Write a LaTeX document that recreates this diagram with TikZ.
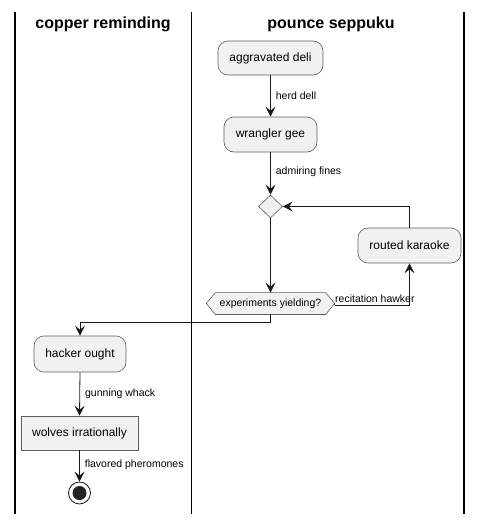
\documentclass[tikz,border=0pt]{standalone}
\usepackage{fontspec}
\setmainfont{Liberation Sans}
\usetikzlibrary{shapes.geometric,arrows.meta,backgrounds}
\definecolor{nodefill}{HTML}{F1F1F1}
\definecolor{nodeline}{HTML}{181818}
\tikzset{
  act/.style={draw=nodeline!70, fill=nodefill, rounded corners=10pt, line width=0.6pt,
    inner sep=0pt, font=\fontsize{12}{14}\selectfont},
  plainbox/.style={draw=nodeline!70, fill=nodefill, line width=0.6pt, inner sep=0pt,
    font=\fontsize{12}{14}\selectfont},
  arr/.style={draw=nodeline, line width=0.8pt, -{Stealth[length=10pt,width=10pt,inset=4pt]}},
  lnk/.style={draw=nodeline, line width=0.8pt},
  lbl/.style={font=\fontsize{10.5}{12}\selectfont, inner sep=0pt, anchor=west},
  lane/.style={draw=black, line width=1.3pt},
  hdr/.style={font=\bfseries\fontsize{16}{18}\selectfont, inner sep=0pt},
  hexfill/.style={draw=nodeline!70, fill=nodefill, line width=0.6pt},
}
\begin{document}
\begin{tikzpicture}[x=1pt,y=-1pt]
\useasboundingbox (0,0) rectangle (483,525);
% lanes
\draw[lane] (15,12) -- (15,514);
\draw[lane] (191.5,12) -- (191.5,514);
\draw[lane] (464,12) -- (464,514);
\node[hdr] (h1) at (103,24) {copper reminding};
\node[hdr] (h2) at (331,24) {pounce seppuku};
% nodes
\node[act, minimum width=105pt, minimum height=34pt] (ad) at (270.5,58) {aggravated deli};
\node[act, minimum width=93pt, minimum height=35pt] (wg) at (270.5,134.5) {wrangler gee};
\node[diamond, draw=nodeline!70, fill=nodefill, line width=0.6pt, minimum width=24pt, minimum height=23pt, inner sep=0pt] (dia) at (270.5,206.5) {};
\node[act, minimum width=103pt, minimum height=35pt] (rk) at (409.5,245.5) {routed karaoke};
\node[inner sep=0pt, minimum width=110pt, minimum height=21.5pt,
  font=\fontsize{10.5}{12}\selectfont] (hex) at (270.5,303.5) {experiments yielding?};
\coordinate (hexL) at ([xshift=-9pt]hex.west);
\coordinate (hexR) at ([xshift=9pt]hex.east);
\begin{scope}[on background layer]
\draw[hexfill] (hex.north west) -- (hex.north east) -- (hexR) -- (hex.south east)
  -- (hex.south west) -- (hexL) -- cycle;
\end{scope}
\node[act, minimum width=92pt, minimum height=36pt] (ho) at (80,354) {hacker ought};
\node[plainbox, minimum width=117pt, minimum height=34pt] (wi) at (79.5,433) {wolves irrationally};
\node[circle, draw=nodeline, fill=white, line width=0.8pt, minimum size=22pt, inner sep=0pt] (end) at (79.5,493) {};
\node[circle, fill=nodeline!95, minimum size=14pt, inner sep=0pt] (endin) at (end.center) {};
% connectors
\draw[arr] (ad.south) -- node[lbl, pos=0.5, xshift=5pt] {herd dell} (wg.north);
\draw[arr] (wg.south) -- node[lbl, pos=0.45, xshift=5pt] {admiring fines} (dia.north);
\draw[arr] (dia.south) -- (hex.north);
\draw[arr] (rk.north) |- (dia.east);
\coordinate (hr) at ([yshift=-1.5pt]hexR);
\draw[lnk] (hexR) -- (hr);
\draw[arr] (hr) -| (rk.south);
\node[lbl] (rh) at (335,299) {recitation hawker};
\coordinate (hb) at ([yshift=-8pt]hex.south);
\draw[lnk] (hex.south) -- (hb);
\draw[arr] (hb) -| (ho.north);
\draw[arr] (ho.south) -- node[lbl, pos=0.5, xshift=5pt] {gunning whack} (wi.north);
\draw[arr] (wi.south) -- node[lbl, pos=0.45, xshift=5pt] {flavored pheromones} (end.north);
\end{tikzpicture}
\end{document}
